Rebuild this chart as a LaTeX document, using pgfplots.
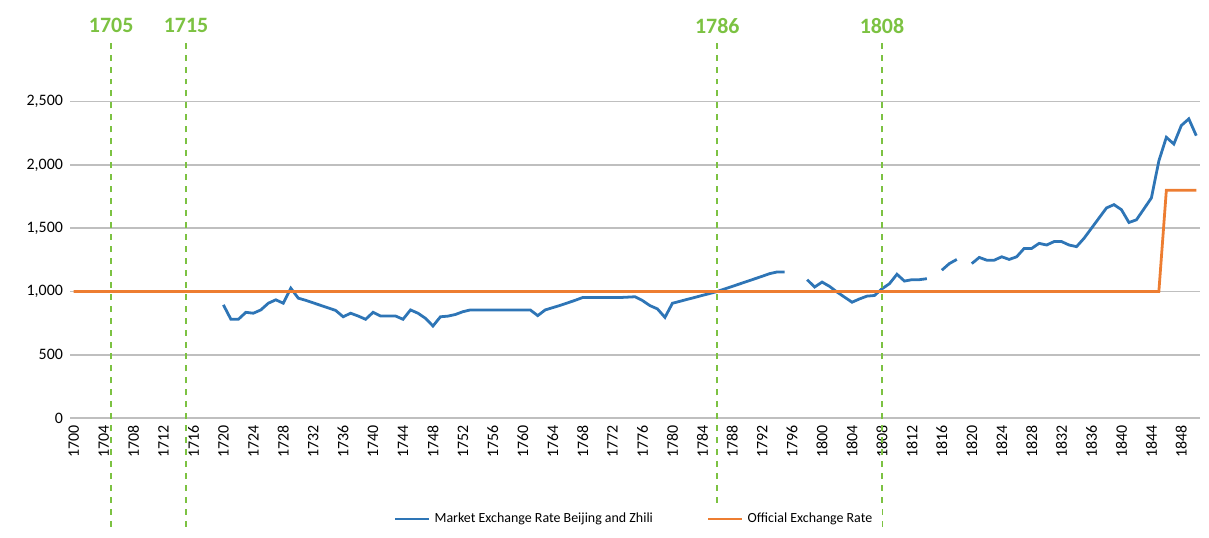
\documentclass[border=0pt]{standalone}
\usepackage{pgfplots}
\pgfplotsset{compat=1.18}
\usepackage{fontspec}
\setmainfont{Carlito}
\definecolor{blu}{HTML}{2E75B6}
\definecolor{ora}{HTML}{ED7D31}
\definecolor{grn}{HTML}{7CC242}
\begin{document}
\begin{tikzpicture}[x=1bp,y=1bp]
\path[use as bounding box] (0,0) rectangle (604.5,268.5);
\begin{axis}[at={(35bp,59.5bp)},anchor=south west,scale only axis,width=565bp,height=183.5bp,
 xmin=1699.5,xmax=1850.5,ymin=0,ymax=2900,
 axis line style={draw=none}, major tick length=0pt, clip=false,
 ymajorgrids, grid style={gray!50,line width=0.8pt},
 ytick={0,500,...,2500}, xtick={1700,1704,...,1848},
 xticklabel style={rotate=90,anchor=east,font=\fontsize{8}{9}\selectfont},
 yticklabel style={font=\fontsize{8}{9}\selectfont},
 /pgf/number format/assume math mode=true,
 xticklabel={\pgfmathprintnumber[1000 sep={}]{\tick}},
 unbounded coords=jump,
 legend style={at={(0.5,-0.235)},anchor=north,draw=none,legend columns=2,font=\fontsize{7}{8}\selectfont,/tikz/every even column/.append style={column sep=25bp}},
 legend cell align=left,
]
\addplot[blu,line width=1.4pt] coordinates {
(1720,894)(1721,780)(1722,780)(1723,835)(1724,828)(1725,854)(1726,907)(1727,934)(1728,907)(1729,1026)
(1730,947)(1731,930)(1732,910)(1733,890)(1734,870)(1735,850)(1736,800)(1737,828)(1738,806)(1739,780)
(1740,835)(1741,806)(1742,806)(1743,806)(1744,780)(1745,854)(1746,828)(1747,788)(1748,727)(1749,800)
(1750,805)(1751,818)(1752,840)(1753,854)(1754,854)(1755,854)(1756,854)(1757,854)(1758,854)(1759,854)
(1760,854)(1761,854)(1762,809)(1763,854)(1764,872)(1765,890)(1766,910)(1767,930)(1768,952)(1769,952)
(1770,952)(1771,952)(1772,952)(1773,952)(1774,955)(1775,958)(1776,928)(1777,888)(1778,862)(1779,795)
(1780,907)(1781,922)(1782,938)(1783,953)(1784,969)(1785,984)(1786,1000)(1787,1020)(1788,1040)(1789,1060)
(1790,1080)(1791,1100)(1792,1120)(1793,1141)(1794,1154)(1795,1154)(1796,nan)(1797,nan)
(1798,1093)(1799,1035)(1800,1074)(1801,1040)(1802,995)(1803,955)(1804,915)(1805,941)(1806,963)(1807,968)
(1808,1021)(1809,1061)(1810,1136)(1811,1082)(1812,1093)(1813,1093)(1814,1101)(1815,nan)
(1816,1168)(1817,1220)(1818,1253)(1819,nan)
(1820,1220)(1821,1269)(1822,1247)(1823,1247)(1824,1274)(1825,1253)(1826,1274)(1827,1340)(1828,1340)(1829,1380)
(1830,1367)(1831,1394)(1832,1394)(1833,1367)(1834,1354)(1835,1420)(1836,1500)(1837,1580)(1838,1660)(1839,1686)
(1840,1646)(1841,1545)(1842,1566)(1843,1652)(1844,1739)(1845,2032)(1846,2218)(1847,2165)(1848,2311)(1849,2364)(1850,2231)};
\addlegendentry{Market Exchange Rate Beijing and Zhili}
\addplot[ora,line width=1.4pt] coordinates {(1700,1000)(1845,1000)(1846,1800)(1850,1800)};
\addlegendentry{Official Exchange Rate}
\pgfplotsinvokeforeach{1705,1715,1786,1808}{
 \draw[grn,dashed,line width=1pt] (axis cs:#1,-860)--(axis cs:#1,2960);
 \node[grn,font=\fontsize{11}{12}\selectfont\bfseries] at (axis cs:#1,3100) {#1};}
\end{axis}
\end{tikzpicture}
\end{document}
